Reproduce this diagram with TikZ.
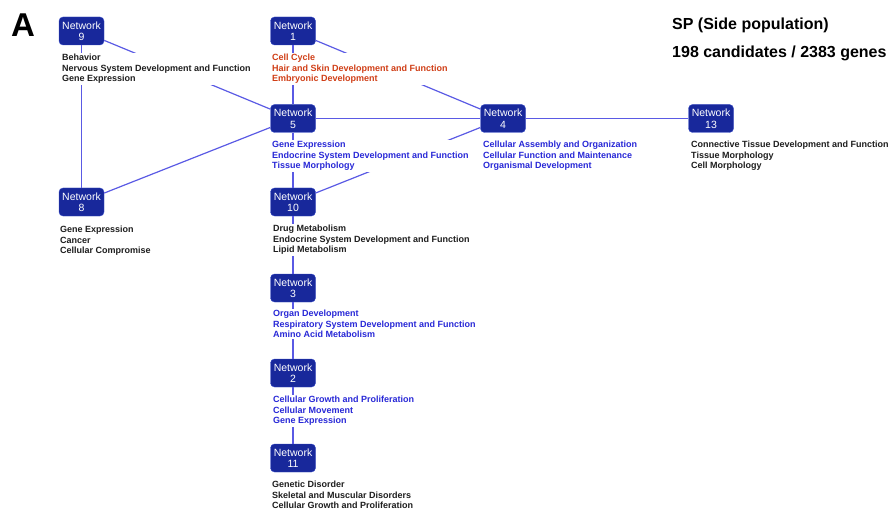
\documentclass[tikz,border=0pt]{standalone}
\usepackage{fontspec}
\setmainfont{Liberation Sans}
\definecolor{netfill}{RGB}{24,40,155}
\definecolor{netdraw}{RGB}{55,75,200}
\definecolor{edgec}{RGB}{90,90,228}
\definecolor{bluet}{RGB}{40,40,215}
\definecolor{oranget}{RGB}{208,62,22}
\definecolor{blackt}{RGB}{30,30,30}
\begin{document}
\begin{tikzpicture}[x=1pt,y=-1pt,
  net/.style={draw=netdraw,fill=netfill,rounded corners=4pt,minimum width=45pt,minimum height=28pt,
    inner sep=0pt,align=center,text=white,font=\fontsize{10.5}{11.5}\selectfont},
  lab/.style={anchor=north west,fill=white,inner sep=1pt,align=left,
    font=\fontsize{9}{10.5}\selectfont\bfseries},
  edge/.style={draw=edgec,line width=1.2pt}]
\useasboundingbox (0,0) rectangle (891,513);
\node[font=\fontsize{33}{33}\selectfont\bfseries] (A) at (23,25) {A};
\node[anchor=west,font=\fontsize{16}{16}\selectfont\bfseries,inner sep=0pt] (t1) at (672,25) {SP (Side population)};
\node[anchor=west,font=\fontsize{16}{16}\selectfont\bfseries,inner sep=0pt] (t2) at (672,53) {198 candidates / 2383 genes};
% networks
\node[net] (n9) at (81.5,31) {Network\\9};
\node[net] (n1) at (293,31) {Network\\1};
\node[net] (n5) at (293,118.5) {Network\\5};
\node[net] (n4) at (503,118.5) {Network\\4};
\node[net] (n13) at (711,118.5) {Network\\13};
\node[net] (n8) at (81.5,202) {Network\\8};
\node[net] (n10) at (293,202) {Network\\10};
\node[net] (n3) at (293,288) {Network\\3};
\node[net] (n2) at (293,373) {Network\\2};
\node[net] (n11) at (293,458) {Network\\11};
% edges
\draw[edge] (n9) -- (n5);
\draw[edge] (n1) -- (n4);
\draw[edge] (n1) -- (n5);
\draw[edge] (n9) -- (n8);
\draw[edge] (n5) -- (n4);
\draw[edge] (n4) -- (n13);
\draw[edge] (n5) -- (n8);
\draw[edge] (n10) -- (n4);
\draw[edge] (n5) -- (n10);
\draw[edge] (n10) -- (n3);
\draw[edge] (n3) -- (n2);
\draw[edge] (n2) -- (n11);
% labels
\node[lab,text=blackt] (l9) at (61,53) {Behavior\\Nervous System Development and Function\\Gene Expression};
\node[lab,text=oranget] (l1) at (271,53) {Cell Cycle\\Hair and Skin Development and Function\\Embryonic Development};
\node[lab,text=bluet] (l5) at (271,140) {Gene Expression\\Endocrine System Development and Function\\Tissue Morphology};
\node[lab,text=bluet] (l4) at (482,140) {Cellular Assembly and Organization\\Cellular Function and Maintenance\\Organismal Development};
\node[lab,text=blackt] (l13) at (690,140) {Connective Tissue Development and Function\\Tissue Morphology\\Cell Morphology};
\node[lab,text=blackt] (l8) at (59,225) {Gene Expression\\Cancer\\Cellular Compromise};
\node[lab,text=blackt] (l10) at (272,224) {Drug Metabolism\\Endocrine System Development and Function\\Lipid Metabolism};
\node[lab,text=bluet] (l3) at (272,309) {Organ Development\\Respiratory System Development and Function\\Amino Acid Metabolism};
\node[lab,text=bluet] (l2) at (272,395) {Cellular Growth and Proliferation\\Cellular Movement\\Gene Expression};
\node[lab,text=blackt] (l11) at (271,480) {Genetic Disorder\\Skeletal and Muscular Disorders\\Cellular Growth and Proliferation};
\end{tikzpicture}
\end{document}
